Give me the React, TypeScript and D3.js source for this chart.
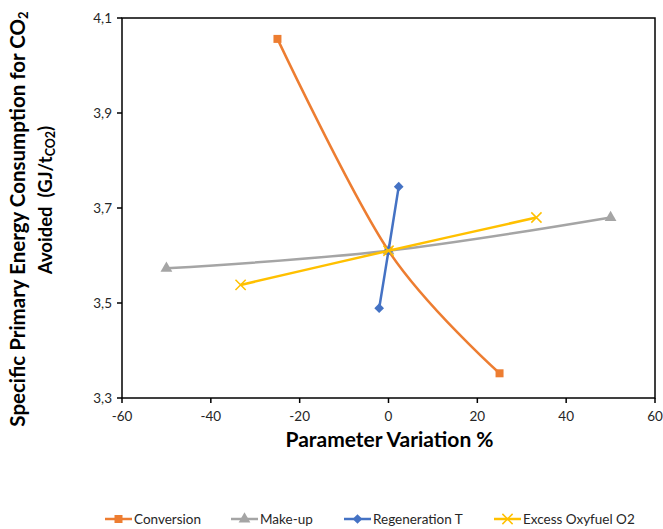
import * as d3 from 'd3';
import React from 'react';

// chart values
const xTicks = [-60, -40, -20, 0, 20, 40, 60];
const yTicks = [3.3, 3.5, 3.7, 3.9, 4.1];

const seriesNames = ['Conversion', 'Make-up', 'Regeneration T', 'Excess Oxyfuel O2'];
const conversionX = [-25, 0, 25];
const conversionY = [4.056, 3.61, 3.352];
const makeupX = [-50, 0, 50];
const makeupY = [3.573, 3.61, 3.68];
const regenX = [-2.1, 0, 2.3];
const regenY = [3.489, 3.61, 3.745];
const excessX = [-33.3, 0, 33.3];
const excessY = [3.538, 3.61, 3.68];

const W = 663;
const H = 529;
const left = 122, right = 655, top = 18, bottom = 398;
const font = "Lato, 'Open Sans', sans-serif";

const colors = ['#ED7D31', '#A5A5A5', '#4472C4', '#FFC000'];
const symbols = [d3.symbolSquare, d3.symbolTriangle, d3.symbolDiamond2, d3.symbolX];
const symSizes = [64, 60, 60, 70];
const legendX = [105, 231, 344, 494];

const series = [
  { xs: conversionX, ys: conversionY },
  { xs: makeupX, ys: makeupY },
  { xs: regenX, ys: regenY },
  { xs: excessX, ys: excessY },
];

export default function App() {
  const x = d3.scaleLinear().domain([-60, 60]).range([left, right]);
  const y = d3.scaleLinear().domain([3.3, 4.1]).range([bottom, top]);

  // smoothed line like the spreadsheet's
  const line = d3.line<[number, number]>()
    .x(d => x(d[0]))
    .y(d => y(d[1]))
    .curve(d3.curveCardinal.tension(0));

  const marker = (i: number) => d3.symbol().type(symbols[i]).size(symSizes[i])() as string;
  const isStroke = (i: number) => i === 3;

  return (
    <svg width={W} height={H} style={{ position: 'absolute', left: 0, top: 0, background: '#fff' }}
      fontFamily={font}>
      {/* plot frame */}
      <rect x={left} y={top} width={right - left} height={bottom - top} fill="none" stroke="#000" strokeWidth={1.5} />
      {yTicks.map(t => (
        <g key={'y' + t}>
          <line x1={left - 5} x2={left} y1={y(t)} y2={y(t)} stroke="#000" strokeWidth={1.5} />
          <text x={left - 10} y={y(t)} dy="0.35em" textAnchor="end" fontSize={13.5} fill="#262626">
            {d3.format('.1f')(t).replace('.', ',')}
          </text>
        </g>
      ))}
      {xTicks.map(t => (
        <g key={'x' + t}>
          <line x1={x(t)} x2={x(t)} y1={bottom} y2={bottom + 5} stroke="#000" strokeWidth={1.5} />
          <text x={x(t)} y={bottom + 18} dy="0.35em" textAnchor="middle" fontSize={13.5} fill="#262626">{t}</text>
        </g>
      ))}

      {/* series */}
      {series.map((s, i) => {
        const pts = s.xs.map((v, j) => [v, s.ys[j]] as [number, number]);
        return (
          <g key={seriesNames[i]}>
            <path d={line(pts) as string} fill="none" stroke={colors[i]} strokeWidth={2.5} />
            {pts.map((p, j) => (
              <path key={j} d={marker(i)} transform={`translate(${x(p[0])},${y(p[1])})`}
                fill={isStroke(i) ? 'none' : colors[i]} stroke={isStroke(i) ? colors[i] : 'none'}
                strokeWidth={1.5} />
            ))}
          </g>
        );
      })}

      {/* axis titles */}
      <text x={x(0) + 1} y={440} dy="0.35em" textAnchor="middle" fontSize={21} fontWeight="bold" fill="#000">
        Parameter Variation %
      </text>
      <g transform="rotate(-90)">
        <text x={-219} y={25} textAnchor="middle" fontSize={20.5} fontWeight="bold" fill="#000">
          Specific Primary Energy Consumption for CO<tspan fontSize={13} dy={3}>2</tspan>
        </text>
        <text x={-200} y={52} textAnchor="middle" fontSize={18.5} fontWeight="bold" fill="#000"
          style={{ whiteSpace: 'pre' }}>
          {'Avoided  (GJ/t'}<tspan fontSize={12.5} dy={3}>CO2</tspan><tspan dy={-3}>)</tspan>
        </text>
      </g>

      {/* legend */}
      {seriesNames.map((n, i) => (
        <g key={'l' + n} transform={`translate(${legendX[i]},519)`}>
          <line x1={0} x2={27} y1={0} y2={0} stroke={colors[i]} strokeWidth={2.5} />
          <path d={marker(i)} transform="translate(13.5,0)"
            fill={isStroke(i) ? 'none' : colors[i]} stroke={isStroke(i) ? colors[i] : 'none'} strokeWidth={1.5} />
          <text x={29} y={0} dy="0.35em" fontSize={13.5} fill="#262626">{n}</text>
        </g>
      ))}
    </svg>
  );
}
